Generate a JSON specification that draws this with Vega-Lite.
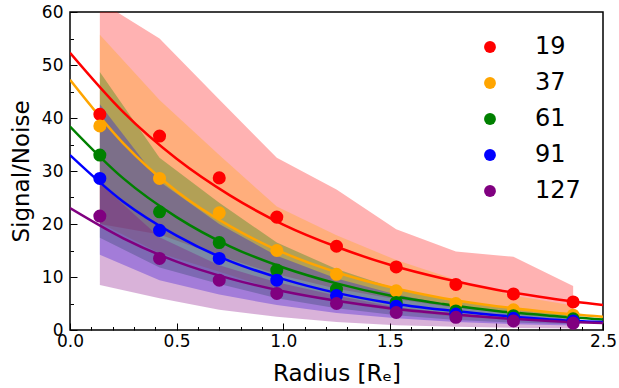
{
  "$schema": "https://vega.github.io/schema/vega-lite/v6.json",
  "width": 533,
  "height": 318,
  "autosize": {"type": "none"},
  "padding": {"left": 70, "top": 12, "right": 16, "bottom": 58},
  "background": "white",
  "config": {
    "view": {"stroke": "black", "strokeWidth": 1.5},
    "font": "DejaVu Sans",
    "axis": {"grid": false, "domain": false, "tickColor": "black", "labelColor": "black", "titleColor": "black", "labelFont": "DejaVu Sans", "titleFont": "DejaVu Sans", "titleFontWeight": "normal", "labelFontSize": 17, "titleFontSize": 23, "tickWidth": 1}
  },
  "datasets": {
    "pts": [
      {"series": "19", "r": 0.14, "sn": 40.7, "lo": 20.0, "hi": 62.0},
      {"series": "19", "r": 0.42, "sn": 36.6, "lo": 18.0, "hi": 55.0},
      {"series": "19", "r": 0.70, "sn": 28.7, "lo": 14.0, "hi": 43.5},
      {"series": "19", "r": 0.97, "sn": 21.3, "lo": 10.5, "hi": 32.5},
      {"series": "19", "r": 1.25, "sn": 15.8, "lo": 7.8, "hi": 26.5},
      {"series": "19", "r": 1.53, "sn": 11.9, "lo": 5.8, "hi": 19.0},
      {"series": "19", "r": 1.81, "sn": 8.6, "lo": 4.2, "hi": 14.8},
      {"series": "19", "r": 2.08, "sn": 6.8, "lo": 3.3, "hi": 13.8},
      {"series": "19", "r": 2.36, "sn": 5.3, "lo": 2.6, "hi": 8.3},
      {"series": "37", "r": 0.14, "sn": 38.5, "lo": 20.2, "hi": 55.7},
      {"series": "37", "r": 0.42, "sn": 28.6, "lo": 14.5, "hi": 43.4},
      {"series": "37", "r": 0.70, "sn": 22.1, "lo": 11.0, "hi": 33.0},
      {"series": "37", "r": 0.97, "sn": 15.0, "lo": 7.5, "hi": 23.3},
      {"series": "37", "r": 1.25, "sn": 10.5, "lo": 5.2, "hi": 17.9},
      {"series": "37", "r": 1.53, "sn": 7.4, "lo": 3.6, "hi": 13.2},
      {"series": "37", "r": 1.81, "sn": 5.0, "lo": 2.5, "hi": 9.5},
      {"series": "37", "r": 2.08, "sn": 3.8, "lo": 1.9, "hi": 6.5},
      {"series": "37", "r": 2.36, "sn": 2.8, "lo": 1.4, "hi": 4.6},
      {"series": "61", "r": 0.14, "sn": 33.0, "lo": 17.4, "hi": 48.7},
      {"series": "61", "r": 0.42, "sn": 22.3, "lo": 11.8, "hi": 32.5},
      {"series": "61", "r": 0.70, "sn": 16.5, "lo": 8.7, "hi": 24.0},
      {"series": "61", "r": 0.97, "sn": 11.3, "lo": 6.0, "hi": 16.5},
      {"series": "61", "r": 1.25, "sn": 7.7, "lo": 4.1, "hi": 11.5},
      {"series": "61", "r": 1.53, "sn": 5.2, "lo": 2.8, "hi": 7.8},
      {"series": "61", "r": 1.81, "sn": 3.6, "lo": 1.9, "hi": 5.4},
      {"series": "61", "r": 2.08, "sn": 2.7, "lo": 1.4, "hi": 4.0},
      {"series": "61", "r": 2.36, "sn": 2.1, "lo": 1.1, "hi": 3.1},
      {"series": "91", "r": 0.14, "sn": 28.6, "lo": 14.2, "hi": 42.6},
      {"series": "91", "r": 0.42, "sn": 18.8, "lo": 9.4, "hi": 28.0},
      {"series": "91", "r": 0.70, "sn": 13.5, "lo": 6.7, "hi": 20.0},
      {"series": "91", "r": 0.97, "sn": 9.4, "lo": 4.7, "hi": 14.0},
      {"series": "91", "r": 1.25, "sn": 6.5, "lo": 3.2, "hi": 9.7},
      {"series": "91", "r": 1.53, "sn": 4.5, "lo": 2.2, "hi": 6.7},
      {"series": "91", "r": 1.81, "sn": 3.0, "lo": 1.5, "hi": 4.5},
      {"series": "91", "r": 2.08, "sn": 2.2, "lo": 1.1, "hi": 3.3},
      {"series": "91", "r": 2.36, "sn": 1.7, "lo": 0.85, "hi": 2.5},
      {"series": "127", "r": 0.14, "sn": 21.5, "lo": 8.5, "hi": 27.7},
      {"series": "127", "r": 0.42, "sn": 13.5, "lo": 6.0, "hi": 17.5},
      {"series": "127", "r": 0.70, "sn": 9.4, "lo": 3.8, "hi": 12.2},
      {"series": "127", "r": 0.97, "sn": 6.9, "lo": 2.5, "hi": 9.0},
      {"series": "127", "r": 1.25, "sn": 5.0, "lo": 1.5, "hi": 6.5},
      {"series": "127", "r": 1.53, "sn": 3.3, "lo": 0.9, "hi": 4.3},
      {"series": "127", "r": 1.81, "sn": 2.4, "lo": 0.6, "hi": 3.1},
      {"series": "127", "r": 2.08, "sn": 1.7, "lo": 0.4, "hi": 2.2},
      {"series": "127", "r": 2.36, "sn": 1.3, "lo": 0.3, "hi": 1.7}
    ],
    "fit": [
      {"series": "19", "r": 0.0, "sn": 52.3}, {"series": "19", "r": 0.25, "sn": 41.1}, {"series": "19", "r": 0.5, "sn": 32.3}, {"series": "19", "r": 0.75, "sn": 25.4}, {"series": "19", "r": 1.0, "sn": 19.9}, {"series": "19", "r": 1.25, "sn": 15.7}, {"series": "19", "r": 1.5, "sn": 12.3}, {"series": "19", "r": 1.75, "sn": 9.7}, {"series": "19", "r": 2.0, "sn": 7.6}, {"series": "19", "r": 2.25, "sn": 6.0}, {"series": "19", "r": 2.5, "sn": 4.7},
      {"series": "37", "r": 0.0, "sn": 47.2}, {"series": "37", "r": 0.25, "sn": 35.2}, {"series": "37", "r": 0.5, "sn": 26.2}, {"series": "37", "r": 0.75, "sn": 19.6}, {"series": "37", "r": 1.0, "sn": 14.6}, {"series": "37", "r": 1.25, "sn": 10.9}, {"series": "37", "r": 1.5, "sn": 8.1}, {"series": "37", "r": 1.75, "sn": 6.0}, {"series": "37", "r": 2.0, "sn": 4.5}, {"series": "37", "r": 2.25, "sn": 3.36}, {"series": "37", "r": 2.5, "sn": 2.5},
      {"series": "61", "r": 0.0, "sn": 38.4}, {"series": "61", "r": 0.25, "sn": 28.6}, {"series": "61", "r": 0.5, "sn": 21.3}, {"series": "61", "r": 0.75, "sn": 15.8}, {"series": "61", "r": 1.0, "sn": 11.8}, {"series": "61", "r": 1.25, "sn": 8.8}, {"series": "61", "r": 1.5, "sn": 6.5}, {"series": "61", "r": 1.75, "sn": 4.9}, {"series": "61", "r": 2.0, "sn": 3.6}, {"series": "61", "r": 2.25, "sn": 2.7}, {"series": "61", "r": 2.5, "sn": 2.0},
      {"series": "91", "r": 0.0, "sn": 33.0}, {"series": "91", "r": 0.25, "sn": 24.2}, {"series": "91", "r": 0.5, "sn": 17.8}, {"series": "91", "r": 0.75, "sn": 13.0}, {"series": "91", "r": 1.0, "sn": 9.6}, {"series": "91", "r": 1.25, "sn": 7.0}, {"series": "91", "r": 1.5, "sn": 5.1}, {"series": "91", "r": 1.75, "sn": 3.8}, {"series": "91", "r": 2.0, "sn": 2.8}, {"series": "91", "r": 2.25, "sn": 2.0}, {"series": "91", "r": 2.5, "sn": 1.5},
      {"series": "127", "r": 0.0, "sn": 23.0}, {"series": "127", "r": 0.25, "sn": 17.3}, {"series": "127", "r": 0.5, "sn": 12.9}, {"series": "127", "r": 0.75, "sn": 9.7}, {"series": "127", "r": 1.0, "sn": 7.3}, {"series": "127", "r": 1.25, "sn": 5.5}, {"series": "127", "r": 1.5, "sn": 4.1}, {"series": "127", "r": 1.75, "sn": 3.1}, {"series": "127", "r": 2.0, "sn": 2.3}, {"series": "127", "r": 2.25, "sn": 1.7}, {"series": "127", "r": 2.5, "sn": 1.3}
    ]
  },
  "encoding": {
    "x": {"field": "r", "type": "quantitative", "scale": {"domain": [0, 2.5], "nice": false, "zero": false},
      "axis": {"title": "Radius [Rₑ]", "values": [0, 0.1, 0.2, 0.3, 0.4, 0.5, 0.6, 0.7, 0.8, 0.9, 1.0, 1.1, 1.2, 1.3, 1.4, 1.5, 1.6, 1.7, 1.8, 1.9, 2.0, 2.1, 2.2, 2.3, 2.4, 2.5],
        "labelExpr": "abs(datum.value*2 - round(datum.value*2)) < 0.001 ? format(datum.value, '.1f') : ''",
        "tickSize": {"condition": {"test": "abs(datum.value*2 - round(datum.value*2)) < 0.001", "value": -7}, "value": -3.5},
        "labelPadding": 10, "labelFlush": false, "labelOverlap": false, "titlePadding": 10}},
    "y": {"field": "sn", "type": "quantitative", "scale": {"domain": [0, 60], "nice": false},
      "axis": {"title": "Signal/Noise", "values": [0, 5, 10, 15, 20, 25, 30, 35, 40, 45, 50, 55, 60],
        "labelExpr": "datum.value % 10 == 0 ? format(datum.value, 'd') : ''",
        "tickSize": {"condition": {"test": "datum.value % 10 == 0", "value": -7}, "value": -3.5},
        "labelPadding": 14, "labelFlush": false, "labelOverlap": false, "titlePadding": 8}},
    "color": {"field": "series", "type": "nominal", "sort": ["19", "37", "61", "91", "127"],
      "scale": {"domain": ["19", "37", "61", "91", "127"], "range": ["#ff0000", "#ffa500", "#008000", "#0000ff", "#800080"]},
      "legend": {"title": null, "orient": "none", "legendX": 408, "legendY": 23, "symbolType": "circle", "symbolSize": 140, "symbolOpacity": 1, "symbolStrokeWidth": 0, "symbolFillColor": null, "labelFontSize": 24, "labelFont": "DejaVu Sans", "labelColor": "black", "rowPadding": 12, "labelOffset": 33, "padding": 0}}
  },
  "layer": [
    {"data": {"name": "pts"}, "mark": {"type": "area", "opacity": 0.3, "clip": true},
      "encoding": {"y": {"field": "hi", "type": "quantitative"}, "y2": {"field": "lo"}}},
    {"data": {"name": "fit"}, "mark": {"type": "line", "strokeWidth": 2.5, "interpolate": "monotone", "clip": true}, "encoding": {}},
    {"data": {"name": "pts"}, "mark": {"type": "circle", "size": 170, "opacity": 1}, "encoding": {}}
  ]
}
